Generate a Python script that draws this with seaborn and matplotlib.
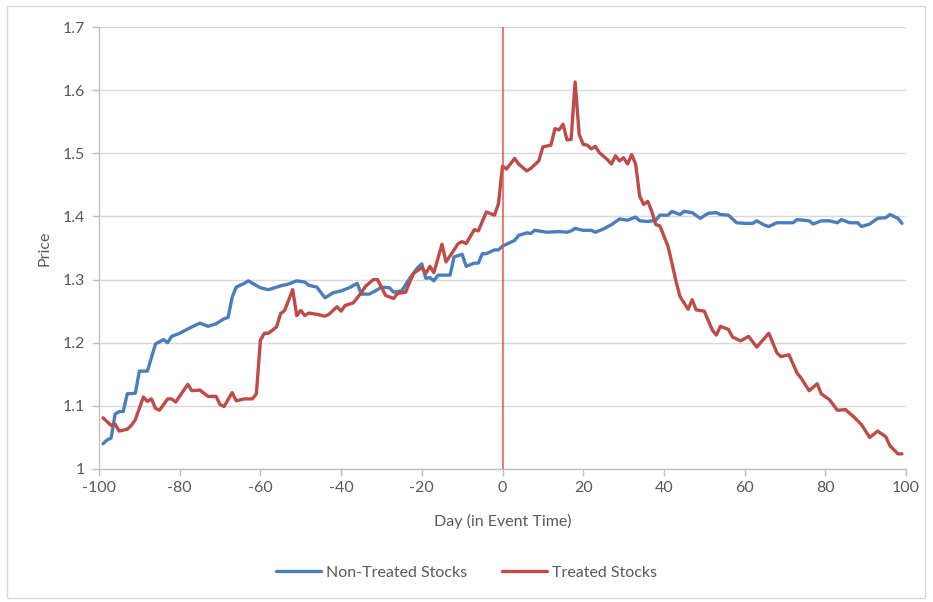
import pandas as pd
import seaborn as sns
import matplotlib.pyplot as plt
from matplotlib.patches import Rectangle

# values
non_treated_days = [
    -99, -98, -97, -96, -95, -94, -93, -91, -90, -88, -86, -84, -83, -82, -80,
    -77, -75, -73, -71, -69, -68, -67, -66, -64, -63, -60, -58, -55, -53, -51,
    -49, -48, -46, -44, -42, -40, -38, -36, -35, -33, -31, -30, -28, -27, -25,
    -23, -21, -20, -19, -18, -17, -16, -13, -12, -10, -9, -7, -6, -5, -4,
    -2, -1, 0, 2, 3, 4, 6, 7, 8, 11, 14, 16, 17, 18, 20,
    22, 23, 25, 27, 29, 31, 33, 34, 36, 38, 39, 41, 42, 44, 45,
    47, 49, 51, 53, 54, 56, 58, 60, 62, 63, 65, 66, 68, 70, 72,
    73, 76, 77, 79, 81, 83, 84, 86, 88, 89, 91, 93, 95, 96, 98, 99,
]
non_treated_price = [
    1.040, 1.046, 1.049, 1.087, 1.091, 1.091, 1.119, 1.120, 1.155, 1.155, 1.198, 1.205, 1.200, 1.210, 1.215,
    1.225, 1.231, 1.226, 1.230, 1.238, 1.240, 1.272, 1.288, 1.294, 1.298, 1.287, 1.284, 1.290, 1.293, 1.298,
    1.296, 1.291, 1.288, 1.271, 1.279, 1.282, 1.287, 1.294, 1.277, 1.277, 1.284, 1.288, 1.287, 1.280, 1.282,
    1.302, 1.319, 1.325, 1.302, 1.303, 1.298, 1.307, 1.307, 1.336, 1.340, 1.321, 1.326, 1.326, 1.341, 1.341,
    1.347, 1.347, 1.353, 1.359, 1.362, 1.370, 1.374, 1.373, 1.378, 1.375, 1.376, 1.375, 1.377, 1.381, 1.378,
    1.378, 1.375, 1.380, 1.387, 1.396, 1.394, 1.399, 1.393, 1.392, 1.394, 1.402, 1.402, 1.408, 1.403, 1.408,
    1.406, 1.397, 1.405, 1.406, 1.403, 1.402, 1.390, 1.389, 1.389, 1.393, 1.386, 1.384, 1.390, 1.390, 1.390,
    1.395, 1.393, 1.388, 1.393, 1.393, 1.390, 1.395, 1.390, 1.390, 1.384, 1.388, 1.397, 1.398, 1.403, 1.397, 1.389,
]

treated_days = [
    -99, -97, -96, -95, -93, -92, -91, -89, -88, -87, -86, -85, -83, -82, -81,
    -78, -77, -75, -73, -71, -70, -69, -67, -66, -64, -62, -61, -60, -59, -58,
    -56, -55, -54, -52, -51, -50, -49, -48, -46, -44, -43, -41, -40, -39, -37,
    -35, -34, -32, -31, -30, -29, -27, -26, -24, -23, -22, -20, -19, -18, -17,
    -15, -14, -12, -11, -10, -9, -7, -6, -4, -2, -1, 0, 1, 3, 4,
    6, 7, 9, 10, 12, 13, 14, 15, 16, 17, 18, 19, 20, 21, 22,
    23, 24, 26, 27, 28, 29, 30, 31, 32, 33, 34, 35, 36, 37, 38,
    39, 41, 42, 43, 44, 46, 47, 48, 50, 52, 53, 54, 56, 57, 59,
    61, 63, 66, 68, 69, 71, 73, 74, 76, 78, 79, 81, 83, 85, 87,
    89, 91, 93, 95, 96, 98, 99,
]
treated_price = [
    1.081, 1.069, 1.071, 1.060, 1.063, 1.069, 1.078, 1.114, 1.107, 1.111, 1.096, 1.093, 1.111, 1.111, 1.106,
    1.134, 1.124, 1.125, 1.115, 1.115, 1.102, 1.099, 1.121, 1.108, 1.111, 1.111, 1.119, 1.204, 1.215, 1.215,
    1.225, 1.246, 1.251, 1.284, 1.243, 1.251, 1.243, 1.247, 1.245, 1.242, 1.245, 1.257, 1.250, 1.259, 1.263,
    1.279, 1.289, 1.300, 1.300, 1.288, 1.275, 1.270, 1.278, 1.280, 1.296, 1.310, 1.319, 1.310, 1.321, 1.311,
    1.356, 1.328, 1.347, 1.357, 1.360, 1.357, 1.379, 1.377, 1.407, 1.402, 1.420, 1.480, 1.475, 1.492, 1.483,
    1.472, 1.476, 1.488, 1.510, 1.513, 1.539, 1.537, 1.546, 1.521, 1.522, 1.613, 1.530, 1.514, 1.513, 1.507,
    1.511, 1.501, 1.490, 1.483, 1.496, 1.488, 1.493, 1.483, 1.498, 1.483, 1.432, 1.419, 1.424, 1.408, 1.387,
    1.385, 1.353, 1.326, 1.297, 1.273, 1.253, 1.268, 1.252, 1.250, 1.220, 1.212, 1.226, 1.221, 1.209, 1.203,
    1.210, 1.193, 1.215, 1.184, 1.178, 1.181, 1.152, 1.144, 1.124, 1.135, 1.119, 1.110, 1.093, 1.094, 1.083,
    1.070, 1.050, 1.060, 1.051, 1.037, 1.024, 1.024,
]

series_names = ['Non-Treated Stocks', 'Treated Stocks']
series_colors = ['#4A7EBB', '#BE4B48']
x_ticks = list(range(-100, 101, 20))
y_ticks = [1, 1.1, 1.2, 1.3, 1.4, 1.5, 1.6, 1.7]
y_tick_labels = ['1', '1.1', '1.2', '1.3', '1.4', '1.5', '1.6', '1.7']
event_day = 0


def build_frame():
    a = pd.DataFrame({'day': non_treated_days, 'price': non_treated_price, 'series': series_names[0]})
    b = pd.DataFrame({'day': treated_days, 'price': treated_price, 'series': series_names[1]})
    return pd.concat([a, b], ignore_index=True)


def main():
    sns.set_style('white')
    plt.rcParams['font.family'] = ['Lato', 'DejaVu Sans']
    plt.rcParams['axes.unicode_minus'] = False
    text_color = '#595959'
    grid_color = '#D9D9D9'

    df = build_frame()

    fig = plt.figure(figsize=(9.33, 6.02), dpi=100)
    ax = fig.add_axes([99 / 933, 1 - 469 / 602, 807 / 933, 442 / 602])

    sns.lineplot(data=df, x='day', y='price', hue='series', hue_order=series_names,
                 palette=series_colors, estimator=None, linewidth=2.4, ax=ax, legend=False)
    ax.axvline(event_day, color='#E8553A', linewidth=1.1, zorder=3)

    ax.set_xlim(-100, 100)
    ax.set_ylim(1, 1.7)
    ax.set_xticks(x_ticks)
    ax.set_yticks(y_ticks)
    ax.set_yticklabels(y_tick_labels)
    ax.yaxis.grid(True, color=grid_color, linewidth=1)
    ax.set_axisbelow(True)

    for side in ['top', 'right']:
        ax.spines[side].set_visible(False)
    for side in ['left', 'bottom']:
        ax.spines[side].set_color('#BFBFBF')
        ax.spines[side].set_linewidth(1)
    ax.tick_params(axis='both', colors='#BFBFBF', labelcolor=text_color, labelsize=11.5,
                   direction='out', length=5, width=1, left=True, bottom=True)
    ax.tick_params(axis='y', pad=5)

    ax.set_xlabel('Day (in Event Time)', color=text_color, fontsize=11.5, labelpad=14)
    ax.set_ylabel('Price', color=text_color, fontsize=11.5, labelpad=8)

    handles = [plt.Line2D([], [], color=c, linewidth=2.4) for c in series_colors]
    fig.legend(handles, series_names, loc='center', bbox_to_anchor=(0.5, 1 - 573 / 602),
               ncol=2, frameon=False, fontsize=11.5, labelcolor=text_color,
               handlelength=2.8, handletextpad=0.3, columnspacing=2.2)

    fig.patches.append(Rectangle((7 / 933, 4 / 602), 918 / 933, 592 / 602, transform=fig.transFigure,
                                 fill=False, edgecolor=grid_color, linewidth=1))

    fig.savefig('out.png', dpi=100)
    plt.close(fig)


if __name__ == '__main__':
    main()
